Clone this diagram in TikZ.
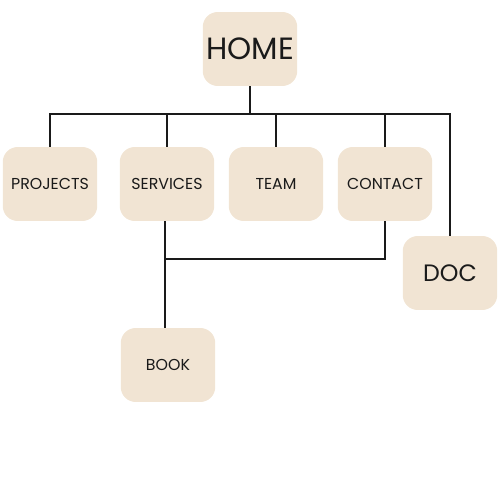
\documentclass[tikz,border=0pt]{standalone}
\usepackage{fontspec}
\setmainfont{Poppins}
\usepackage{xcolor}
\usetikzlibrary{positioning}
\definecolor{sand}{HTML}{F1E4D3}
\definecolor{ink}{HTML}{1A1A1A}

\begin{document}
\begin{tikzpicture}[x=0.02cm, y=-0.02cm, every node/.style={font=\fontsize{9}{10}\selectfont, text=ink}, pg/.style={fill=sand, rounded corners=0.3cm, align=center, minimum width=1.89cm, minimum height=1.48cm, inner sep=0pt}, ln/.style={draw=ink, line width=1.1pt}]
\useasboundingbox (0,0) rectangle (500,500);
\node[pg, font=\fontsize{17.5}{20}\selectfont] (home) at (250,49) {HOME};
\node[pg] (proj) at (50,184) {PROJECTS};
\node[pg] (serv) at (167,184) {SERVICES};
\node[pg] (team) at (276,184) {TEAM};
\node[pg] (cont) at (385,184) {CONTACT};
\node[pg, font=\fontsize{13.5}{15}\selectfont] (doc) at (450,273) {DOC};
\node[pg] (book) at (168,365) {BOOK};
\coordinate (barR) at (450,114);
\coordinate (junc) at (165,259);
\draw[ln] (home) -- (home |- barR);
\draw[ln] (proj.north) |- (barR) -- (doc.north);
\draw[ln] (serv.north) -- (serv.north |- barR);
\draw[ln] (team.north) -- (team.north |- barR);
\draw[ln] (cont.north) -- (cont.north |- barR);
\draw[ln] (cont.south) |- (junc);
\draw[ln] (junc |- serv.south) -- (junc |- book.north);
\end{tikzpicture}
\end{document}
